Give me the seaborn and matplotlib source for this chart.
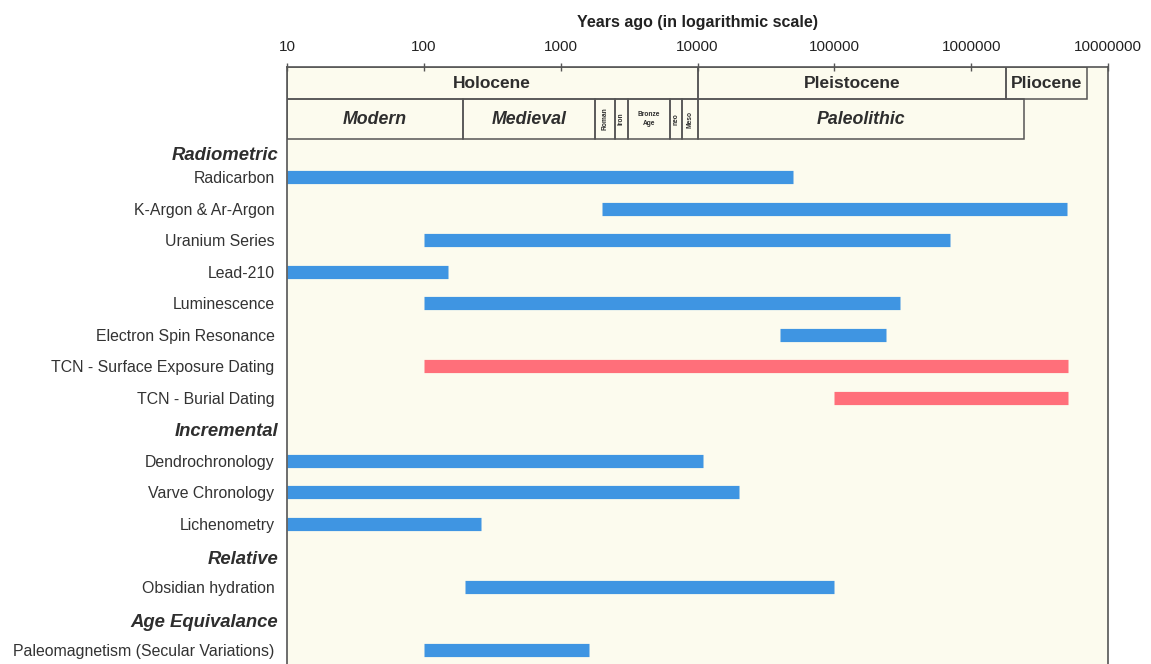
import numpy as np
import pandas as pd
import matplotlib.pyplot as plt
import matplotlib.transforms as mtransforms
from matplotlib.patches import Rectangle
import seaborn as sns

# dating methods: row position, oldest/youngest applicable age (years ago)
methods = ["Radicarbon", "K-Argon & Ar-Argon", "Uranium Series", "Lead-210",
           "Luminescence", "Electron Spin Resonance", "TCN - Surface Exposure Dating",
           "TCN - Burial Dating", "Dendrochronology", "Varve Chronology",
           "Lichenometry", "Obsidian hydration", "Paleomagnetism (Secular Variations)"]
rows = [0, 1, 2, 3, 4, 5, 6, 7, 9, 10, 11, 13, 15]
start = [10, 2000, 100, 10, 100, 40000, 100, 100000, 10, 10, 10, 200, 100]
end = [50000, 5000000, 700000, 150, 300000, 240000, 5100000, 5100000,
       11000, 20000, 260, 100000, 1600]
kind = ["other"] * 6 + ["tcn", "tcn"] + ["other"] * 5

groups = ["Radiometric", "Incremental", "Relative", "Age Equivalance"]
group_rows = [-0.67, 8.07, 12.12, 14.13]

epochs = ["Holocene", "Pleistocene", "Pliocene"]
epoch_edges = [10, 10000, 1800000, 7000000]
periods = ["Modern", "Medieval", "Roman", "Iron", "Bronze\nAge", "neo", "Meso", "Paleolithic"]
period_edges = [10, 193, 1770, 2480, 3080, 6250, 7640, 10000, 2440000]

xticks = [10, 100, 1000, 10000, 100000, 1000000, 10000000]

df = pd.DataFrame({
    "method": methods * 2,
    "row": rows * 2,
    "years": start + end,
    "kind": kind * 2,
})

sns.set_theme(style="white")
plt.rcParams["font.family"] = ["Liberation Sans", "DejaVu Sans"]

fig = plt.figure(figsize=(11.51, 6.64), dpi=100)
ax = fig.add_axes([0.2494, -0.02, 0.7133, 0.9191])
ax.set_facecolor("#FCFBEE")

sns.lineplot(data=df, x="years", y="row", hue="kind", units="method",
             estimator=None, sort=False, legend=False,
             palette={"other": "#3F95E2", "tcn": "#FF6F7A"},
             linewidth=9.5, solid_capstyle="butt", ax=ax)

ax.set_xscale("log")
ax.set_xlim(10, 1e7)
ax.set_ylim(15.86, -3.49)

edge = "#555555"
txt = "#2E2E2E"
# header rows: geological epochs and cultural periods
top1, h1 = -3.49, 1.02
top2, h2 = -2.47, 1.26
for i, name in enumerate(epochs):
    x0, x1 = epoch_edges[i], epoch_edges[i + 1]
    ax.add_patch(Rectangle((x0, top1), x1 - x0, h1, facecolor="none",
                           edgecolor=edge, lw=1.1, zorder=3))
    ax.text(np.sqrt(x0 * x1), top1 + h1 / 2, name, ha="center", va="center",
            fontsize=12.5, fontweight="bold", color=txt)
for i, name in enumerate(periods):
    x0, x1 = period_edges[i], period_edges[i + 1]
    ax.add_patch(Rectangle((x0, top2), x1 - x0, h2, facecolor="none",
                           edgecolor=edge, lw=1.1, zorder=3))
    xc = np.sqrt(x0 * x1)
    if name in ("Modern", "Medieval", "Paleolithic"):
        ax.text(xc, top2 + h2 / 2, name, ha="center", va="center", fontsize=12.8,
                fontweight="bold", fontstyle="italic", color=txt)
    elif name.startswith("Bronze"):
        ax.text(xc, top2 + h2 / 2, name, ha="center", va="center", fontsize=4.8,
                fontweight="bold", color=txt, linespacing=1.5)
    else:
        ax.text(xc, top2 + h2 / 2, name, ha="center", va="center", fontsize=4.8,
                fontweight="bold", color=txt, rotation=90)

ax.xaxis.tick_top()
ax.xaxis.set_label_position("top")
ax.set_xticks(xticks, [str(t) for t in xticks])
ax.minorticks_off()
ax.tick_params(axis="x", which="major", direction="inout", length=6, width=1,
               color=edge, pad=6, labelsize=11, labelcolor="#222222")
ax.set_xlabel("Years ago (in logarithmic scale)", fontsize=11.5,
              fontweight="bold", labelpad=10, color="#222222")

ax.set_yticks(rows, methods)
ax.tick_params(axis="y", length=0, pad=9, labelsize=11.4, labelcolor="#333333")
ax.set_ylabel("")

trans = mtransforms.blended_transform_factory(ax.transAxes, ax.transData)
for name, r in zip(groups, group_rows):
    ax.text(-0.0105, r, name, transform=trans, ha="right", va="center",
            fontsize=13.3, fontweight="bold", fontstyle="italic", color=txt)

for side in ["top", "left", "right"]:
    ax.spines[side].set_color(edge)
    ax.spines[side].set_linewidth(1.2)
ax.spines["bottom"].set_visible(False)

fig.savefig("out.png", dpi=100, facecolor="white")
